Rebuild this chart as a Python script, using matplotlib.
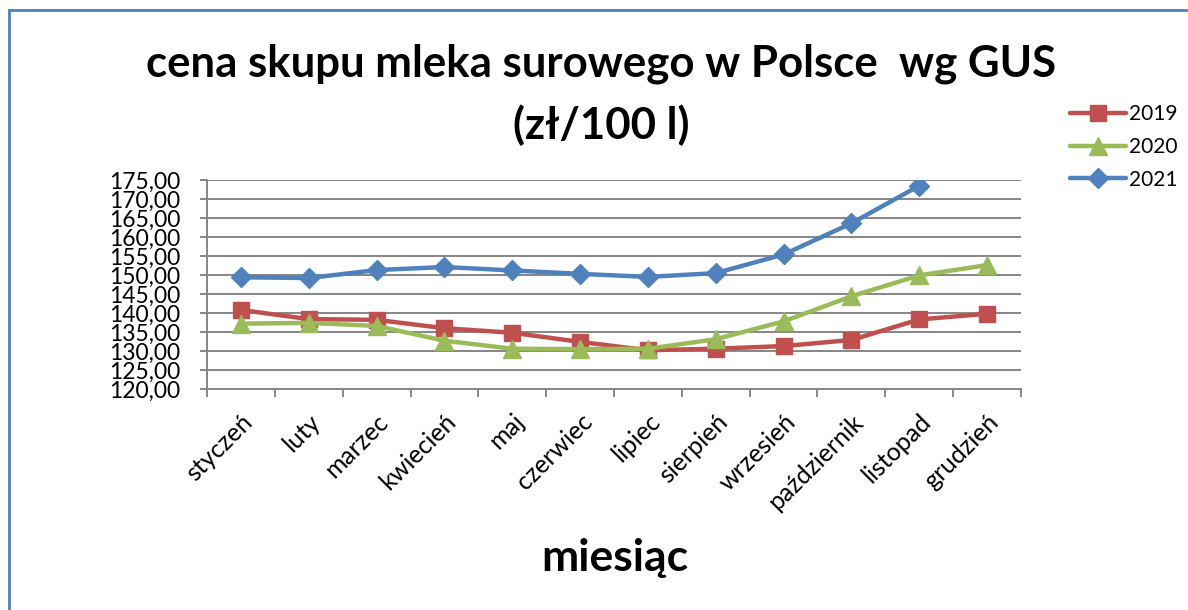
import matplotlib
matplotlib.use("Agg")
import matplotlib.pyplot as plt
from matplotlib.lines import Line2D
from matplotlib.ticker import FixedLocator, FuncFormatter

months = ["styczeń", "luty", "marzec", "kwiecień", "maj", "czerwiec", "lipiec",
          "sierpień", "wrzesień", "październik", "listopad", "grudzień"]
v2019 = [140.8, 138.4, 138.2, 136.0, 134.8, 132.4, 130.2, 130.6, 131.3, 132.9, 138.3, 139.8]
v2020 = [137.2, 137.4, 136.6, 132.7, 130.6, 130.5, 130.6, 133.1, 137.8, 144.4, 149.9, 152.6]
v2021 = [149.4, 149.2, 151.3, 152.1, 151.2, 150.3, 149.5, 150.5, 155.4, 163.6, 173.5]
years = ["2019", "2020", "2021"]
yticks = list(range(120, 176, 5))

plt.rcParams['font.family'] = ['Lato', 'DejaVu Sans']

fig = plt.figure(figsize=(11.88, 6.10), dpi=100)
ax = fig.add_axes([207/1188, 1-389/610, (1021-207)/1188, (389-180)/610])

colors = ["#C0504D", "#9BBB59", "#4F81BD"]
markers = ["s", "^", "D"]
msizes = [11.5, 13, 10.5]
series = [v2019, v2020, v2021]
for vals, c, m, ms, lab in zip(series, colors, markers, msizes, years):
    ax.plot(range(len(vals)), vals, color=c, lw=3.2, marker=m, markersize=ms,
            markeredgecolor=c, label=lab, solid_capstyle='round', zorder=3)

ax.set_xlim(-0.5, len(months) - 0.5)
ax.set_ylim(120, 175)
ax.yaxis.set_major_locator(FixedLocator(yticks))
ax.yaxis.set_major_formatter(FuncFormatter(lambda v, p: f"{v:.2f}".replace(".", ",")))
ax.grid(axis='y', color='#868686', lw=1.4)
ax.set_axisbelow(True)

ax.set_xticks(range(len(months)))
ax.set_xticklabels(months, rotation=45, ha='right', rotation_mode='anchor')
ax.xaxis.set_minor_locator(FixedLocator([i - 0.5 for i in range(len(months) + 1)]))
ax.tick_params(axis='x', which='major', length=0, pad=15, labelsize=18)
ax.tick_params(axis='x', which='minor', length=6, color='#868686', width=1.4)
ax.tick_params(axis='y', length=5, color='#868686', width=1.4, pad=14, labelsize=16.5)

for s in ['top', 'right']:
    ax.spines[s].set_visible(False)
for s in ['left', 'bottom']:
    ax.spines[s].set_color('#868686')
    ax.spines[s].set_linewidth(1.4)

fig.text(0.506, 1-95/610, "cena skupu mleka surowego w Polsce  wg GUS\n(zł/100 l)",
         ha='center', va='center', fontsize=31.5, fontweight='bold', linespacing=1.6)
fig.text(615/1188, 1-558/610, "miesiąc", ha='center', va='center',
         fontsize=32, fontweight='bold')

leg = fig.legend(loc='center left', bbox_to_anchor=(1070/1188, 1-147/610),
                 frameon=False, fontsize=15, handlelength=2.7, handletextpad=0.15,
                 labelspacing=0.6, borderaxespad=0, borderpad=0)

border_c = "#4F81BD"
fig.add_artist(Line2D([9/1188, 9/1188], [0, 1-10/610], transform=fig.transFigure,
                      color=border_c, lw=2))
fig.add_artist(Line2D([9/1188, 1], [1-10/610, 1-10/610], transform=fig.transFigure,
                      color=border_c, lw=2))

fig.savefig("out.png", dpi=100)
